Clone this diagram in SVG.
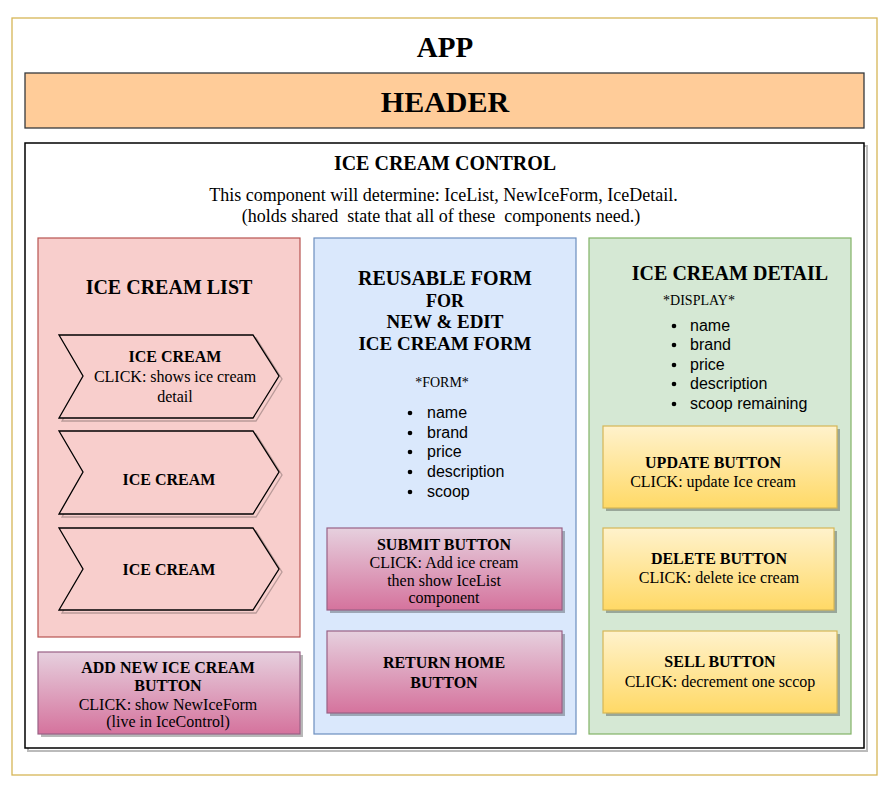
<svg xmlns="http://www.w3.org/2000/svg" width="888" height="788" viewBox="0 0 888 788">
<style>
.t{font-family:"Liberation Serif","DejaVu Serif",serif;fill:#000;text-anchor:middle}
.b{font-weight:bold}
.s{font-family:"Liberation Sans",Arial,sans-serif;font-size:16px;fill:#000}
.n{font-size:16px}
.sh{fill:#000;opacity:0.28}
.pinkbtn{fill:url(#gPink);stroke:#996185;stroke-width:1.2}
.yelbtn{fill:url(#gYel);stroke:#d6b656;stroke-width:1.2}
.chev{fill:#f8cecc;stroke:#000;stroke-width:1.3}
.chevsh{fill:none;stroke:#000;stroke-width:1.3;opacity:0.25}
</style>
<defs>
<linearGradient id="gPink" x1="0" y1="0" x2="0" y2="1"><stop offset="0" stop-color="#e6d0de"/><stop offset="1" stop-color="#d5739d"/></linearGradient>
<linearGradient id="gYel" x1="0" y1="0" x2="0" y2="1"><stop offset="0" stop-color="#fff2cc"/><stop offset="1" stop-color="#ffd966"/></linearGradient>
</defs>
<rect width="888" height="788" fill="#fff"/>
<g id="app">
<rect x="12" y="18" width="865" height="757" fill="#fff" stroke="#d6b656" stroke-width="1.3"/>
<text class="t b" x="445" y="57" font-size="29">APP</text>
</g>
<g id="header">
<rect x="25" y="73" width="839" height="55" fill="#ffcc99" stroke="#36393d" stroke-width="1.3"/>
<text class="t b" x="445" y="112" font-size="30">HEADER</text>
</g>
<g id="control">
<rect x="28" y="146" width="839" height="605" fill="none" stroke="#bbb" stroke-width="2"/>
<rect x="25" y="143" width="839" height="605" fill="#fff" stroke="#000" stroke-width="1.5"/>
<text class="t b" x="445" y="170" font-size="20">ICE CREAM CONTROL</text>
<text class="t" x="443.5" y="201" font-size="18">This component will determine: IceList, NewIceForm, IceDetail.</text>
<text class="t" x="441" y="222" font-size="18" xml:space="preserve">(holds shared  state that all of these  components need.)</text>
</g>
<g id="icecreamlist">
<rect x="38" y="238" width="262" height="399" fill="#f8cecc" stroke="#b85450" stroke-width="1.2"/>
<text class="t b" x="169" y="294" font-size="20">ICE CREAM LIST</text>
</g>
<g id="chevron1">
<polygon class="chevsh" points="62,338 256,338 282,379 256,421 62,421 86,379"/>
<polygon class="chev" points="59,335 253,335 279,376 253,418 59,418 83,376"/>
<text class="t b" x="175" y="362" font-size="16">ICE CREAM</text>
<text class="t n" x="175" y="382">CLICK: shows ice cream</text>
<text class="t n" x="175" y="402">detail</text>
</g>
<g id="chevron2">
<polygon class="chevsh" points="62,434 256,434 282,475 256,517 62,517 86,475"/>
<polygon class="chev" points="59,431 253,431 279,472 253,514 59,514 83,472"/>
<text class="t b" x="169" y="485" font-size="16">ICE CREAM</text>
</g>
<g id="chevron3">
<polygon class="chevsh" points="62,531 256,531 282,572 256,613 62,613 86,572"/>
<polygon class="chev" points="59,528 253,528 279,569 253,610 59,610 83,569"/>
<text class="t b" x="169" y="575" font-size="16">ICE CREAM</text>
</g>
<g id="addbutton">
<rect class="sh" x="41" y="655" width="262" height="82"/>
<rect class="pinkbtn" x="38" y="652" width="262" height="82"/>
<text class="t b" x="168" y="673" font-size="16">ADD NEW ICE CREAM</text>
<text class="t b" x="168" y="691" font-size="16">BUTTON</text>
<text class="t n" x="168" y="710">CLICK: show NewIceForm</text>
<text class="t n" x="168" y="727">(live in IceControl)</text>
</g>
<g id="form">
<rect x="314" y="238" width="262" height="496" fill="#dae8fc" stroke="#6c8ebf" stroke-width="1.2"/>
<text class="t b" x="445" y="285" font-size="20">REUSABLE FORM</text>
<text class="t b" x="445" y="307" font-size="18">FOR</text>
<text class="t b" x="445" y="328" font-size="19">NEW &amp; EDIT</text>
<text class="t b" x="445" y="350" font-size="19">ICE CREAM FORM</text>
<text class="t" x="442" y="387" font-size="14" fill="#333">*FORM*</text>
<g fill="#000">
<circle cx="410" cy="413" r="2.3"/><circle cx="410" cy="433" r="2.3"/><circle cx="410" cy="452" r="2.3"/><circle cx="410" cy="472" r="2.3"/><circle cx="410" cy="492" r="2.3"/>
</g>
<text class="s" x="427" y="418">name</text>
<text class="s" x="427" y="438">brand</text>
<text class="s" x="427" y="457">price</text>
<text class="s" x="427" y="477">description</text>
<text class="s" x="427" y="497">scoop</text>
</g>
<g id="submitbutton">
<rect class="sh" x="330" y="531" width="235" height="82"/>
<rect class="pinkbtn" x="327" y="528" width="235" height="82"/>
<text class="t b" x="444" y="550" font-size="16">SUBMIT BUTTON</text>
<text class="t n" x="444" y="568">CLICK: Add ice cream</text>
<text class="t n" x="444" y="586">then show IceList</text>
<text class="t n" x="444" y="603">component</text>
</g>
<g id="returnbutton">
<rect class="sh" x="330" y="634" width="235" height="82"/>
<rect class="pinkbtn" x="327" y="631" width="235" height="82"/>
<text class="t b" x="444" y="668" font-size="16">RETURN HOME</text>
<text class="t b" x="444" y="688" font-size="16">BUTTON</text>
</g>
<g id="detail">
<rect x="589" y="238" width="262" height="496" fill="#d5e8d4" stroke="#82b366" stroke-width="1.2"/>
<text class="t b" x="730" y="280" font-size="20">ICE CREAM DETAIL</text>
<text class="t" x="699" y="305" font-size="14" fill="#333">*DISPLAY*</text>
<g fill="#000">
<circle cx="674" cy="326" r="2.3"/><circle cx="674" cy="345" r="2.3"/><circle cx="674" cy="365" r="2.3"/><circle cx="674" cy="384" r="2.3"/><circle cx="674" cy="404" r="2.3"/>
</g>
<text class="s" x="690" y="331">name</text>
<text class="s" x="690" y="350">brand</text>
<text class="s" x="690" y="370">price</text>
<text class="s" x="690" y="389">description</text>
<text class="s" x="690" y="409">scoop remaining</text>
</g>
<g id="updatebutton">
<rect class="sh" x="606" y="429" width="234" height="82"/>
<rect class="yelbtn" x="603" y="426" width="234" height="82"/>
<text class="t b" x="713" y="468" font-size="16">UPDATE BUTTON</text>
<text class="t n" x="713" y="487">CLICK: update Ice cream</text>
</g>
<g id="deletebutton">
<rect class="sh" x="606" y="531" width="231" height="82"/>
<rect class="yelbtn" x="603" y="528" width="231" height="82"/>
<text class="t b" x="719" y="564" font-size="16">DELETE BUTTON</text>
<text class="t n" x="719" y="583">CLICK: delete ice cream</text>
</g>
<g id="sellbutton">
<rect class="sh" x="606" y="634" width="234" height="82"/>
<rect class="yelbtn" x="603" y="631" width="234" height="82"/>
<text class="t b" x="720" y="667" font-size="16">SELL BUTTON</text>
<text class="t n" x="720" y="687">CLICK: decrement one sccop</text>
</g>
<g id="connectors"></g>
</svg>
